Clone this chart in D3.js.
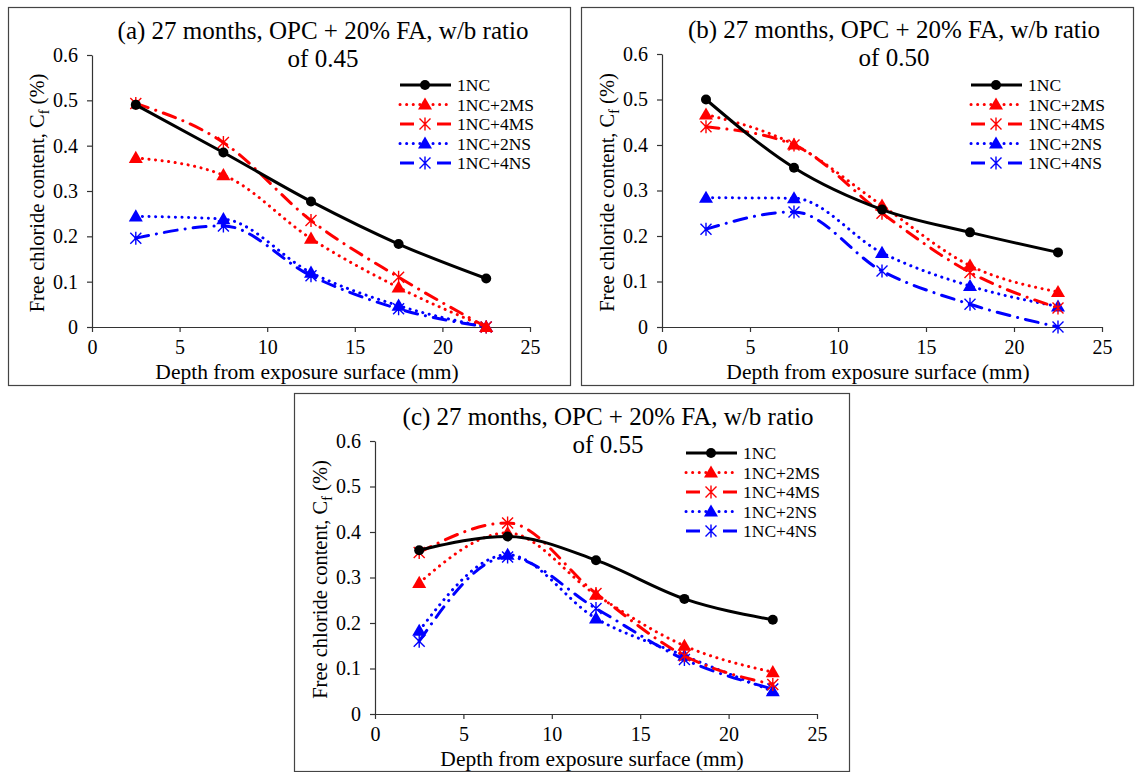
<!DOCTYPE html>
<html>
<head>
<meta charset="utf-8">
<script src="https://cdn.jsdelivr.net/npm/d3@7"></script>
<style>
  body { margin: 0; background: #fff; }
  svg { display: block; }
  text { font-family: "Liberation Serif", "Times New Roman", serif; fill: #000; }
</style>
</head>
<body>
<svg id="chart" width="1138" height="772"></svg>
<script>
// depth (mm) at which every series was sampled
const depths = [2.5, 7.5, 12.5, 17.5, 22.5];
const seriesNames = ["1NC", "1NC+2MS", "1NC+4MS", "1NC+2NS", "1NC+4NS"];
const xTicks = [0, 5, 10, 15, 20, 25];
const yTicks = [0, 0.1, 0.2, 0.3, 0.4, 0.5, 0.6];
const panelLetters = ["(a)", "(b)", "(c)"];
const wbRatios = ["0.45", "0.50", "0.55"];

// free chloride content (%), one row per series in seriesNames order
const valuesA = [
  [0.490, 0.385, 0.277, 0.183, 0.107],
  [0.373, 0.335, 0.195, 0.087, 0.000],
  [0.493, 0.407, 0.235, 0.110, 0.000],
  [0.244, 0.238, 0.120, 0.047, 0.000],
  [0.196, 0.223, 0.113, 0.040, 0.000]
];
const valuesB = [
  [0.500, 0.350, 0.258, 0.208, 0.164],
  [0.467, 0.401, 0.267, 0.135, 0.077],
  [0.440, 0.400, 0.250, 0.120, 0.042],
  [0.284, 0.283, 0.163, 0.090, 0.045],
  [0.215, 0.253, 0.123, 0.050, 0.000]
];
const valuesC = [
  [0.360, 0.390, 0.338, 0.253, 0.207],
  [0.288, 0.398, 0.262, 0.150, 0.092],
  [0.355, 0.420, 0.265, 0.128, 0.065],
  [0.183, 0.350, 0.210, 0.128, 0.050],
  [0.160, 0.345, 0.232, 0.120, 0.055]
];

const svg = d3.select("#chart");

// line look for each series
const styles = [
  { color: "#000", dash: null, marker: "circle" },
  { color: "#ff0000", dash: "0.1 6.5", marker: "triangle" },
  { color: "#ff0000", dash: "13 8 0.1 8", marker: "star" },
  { color: "#0000ff", dash: "0.1 6.5", marker: "triangle" },
  { color: "#0000ff", dash: "13 8 0.1 8", marker: "star" }
];

const panels = [
  { values: valuesA, box: [8, 7, 562, 378], plot: { left: 92, right: 530, top: 55, bottom: 327 },
    legend: { x: 400, y: 85 } },
  { values: valuesB, box: [581, 7, 552, 378], plot: { left: 662, right: 1102, top: 54, bottom: 327 },
    legend: { x: 971, y: 85 } },
  { values: valuesC, box: [294, 393, 555, 378], plot: { left: 375, right: 817, top: 441, bottom: 714 },
    legend: { x: 686, y: 453 } }
];

function drawMarker(g, type, cx, cy, color) {
  if (type === "circle") {
    g.append("circle").attr("cx", cx).attr("cy", cy).attr("r", 5).attr("fill", color);
  } else if (type === "triangle") {
    g.append("path")
      .attr("d", d3.symbol().type(d3.symbolTriangle).size(85)())
      .attr("transform", `translate(${cx},${cy + 1})`)
      .attr("fill", color);
  } else {
    const s = 5.5;
    g.append("path")
      .attr("d", `M${cx - s},${cy - s}L${cx + s},${cy + s}M${cx - s},${cy + s}L${cx + s},${cy - s}M${cx},${cy - s - 1}L${cx},${cy + s + 1}`)
      .attr("stroke", color).attr("stroke-width", 1.4).attr("fill", "none");
  }
}

panels.forEach((p, pi) => {
  const g = svg.append("g");
  const [bx, by, bw, bh] = p.box;
  g.append("rect")
    .attr("x", bx + 0.5).attr("y", by + 0.5).attr("width", bw).attr("height", bh)
    .attr("fill", "#fff").attr("stroke", "#444").attr("stroke-width", 1.2);

  const x = d3.scaleLinear().domain([0, 25]).range([p.plot.left, p.plot.right]);
  const y = d3.scaleLinear().domain([0, 0.6]).range([p.plot.bottom, p.plot.top]);

  const xAxis = g.append("g")
    .attr("transform", `translate(0,${p.plot.bottom})`)
    .call(d3.axisBottom(x).tickValues(xTicks).tickSize(5).tickSizeOuter(0).tickPadding(8));
  const yAxis = g.append("g")
    .attr("transform", `translate(${p.plot.left},0)`)
    .call(d3.axisLeft(y).tickValues(yTicks).tickSize(5).tickSizeOuter(0).tickPadding(9)
      .tickFormat(d => d === 0 ? "0" : d3.format(".1f")(d)));
  [xAxis, yAxis].forEach(a => {
    a.attr("font-family", null).attr("font-size", null);
    a.selectAll("path, line").attr("stroke", "#333").attr("stroke-width", 1.2);
    a.selectAll("text").style("font-size", "20px").attr("fill", "#000");
  });

  // title in two lines
  const cx = (p.plot.left + p.plot.right) / 2 + 12;
  g.append("text").attr("x", cx).attr("y", p.plot.top - 16).attr("text-anchor", "middle")
    .style("font-size", "25px").text(`${panelLetters[pi]} 27 months, OPC + 20% FA, w/b ratio`);
  g.append("text").attr("x", cx).attr("y", p.plot.top + 12).attr("text-anchor", "middle")
    .style("font-size", "25px").text(`of ${wbRatios[pi]}`);

  // axis titles
  g.append("text").attr("x", (p.plot.left + p.plot.right) / 2 - 4).attr("y", p.plot.bottom + 52)
    .attr("text-anchor", "middle").style("font-size", "21.5px").text("Depth from exposure surface (mm)");
  const yl = g.append("text")
    .attr("transform", `translate(${p.plot.left - 48},${(p.plot.top + p.plot.bottom) / 2 + 2}) rotate(-90)`)
    .attr("text-anchor", "middle").style("font-size", "20.5px");
  yl.append("tspan").text("Free chloride  content, C");
  yl.append("tspan").attr("dy", 5).style("font-size", "14px").text("f");
  yl.append("tspan").attr("dy", -5).text(" (%)");

  const line = d3.line()
    .x((d, i) => x(depths[i]))
    .y(d => y(d))
    .curve(d3.curveMonotoneX);

  const order = [4, 3, 2, 1, 0];
  order.forEach(si => {
    const st = styles[si];
    g.append("path")
      .attr("d", line(p.values[si]))
      .attr("fill", "none")
      .attr("stroke", st.color)
      .attr("stroke-width", 3)
      .attr("stroke-linecap", st.dash ? "round" : "butt")
      .attr("stroke-dasharray", st.dash);
    p.values[si].forEach((v, i) => drawMarker(g, st.marker, x(depths[i]), y(v), st.color));
  });

  // legend
  seriesNames.forEach((name, si) => {
    const st = styles[si];
    const ly = p.legend.y + si * 19.5;
    const lx0 = p.legend.x, lx1 = p.legend.x + 51, mx = p.legend.x + 25;
    if (st.dash && st.dash.startsWith("13")) {
      [[lx0, lx0 + 14], [lx1 - 14, lx1]].forEach(([a, b]) => {
        g.append("line").attr("x1", a).attr("x2", b).attr("y1", ly).attr("y2", ly)
          .attr("stroke", st.color).attr("stroke-width", 3);
      });
    } else {
      g.append("line").attr("x1", lx0).attr("x2", lx1).attr("y1", ly).attr("y2", ly)
        .attr("stroke", st.color).attr("stroke-width", 3)
        .attr("stroke-linecap", st.dash ? "round" : "butt")
        .attr("stroke-dasharray", st.dash);
    }
    drawMarker(g, st.marker, mx, ly, st.color);
    g.append("text").attr("x", lx1 + 6).attr("y", ly + 6).style("font-size", "17.5px").text(name);
  });
});
</script>
</body>
</html>
